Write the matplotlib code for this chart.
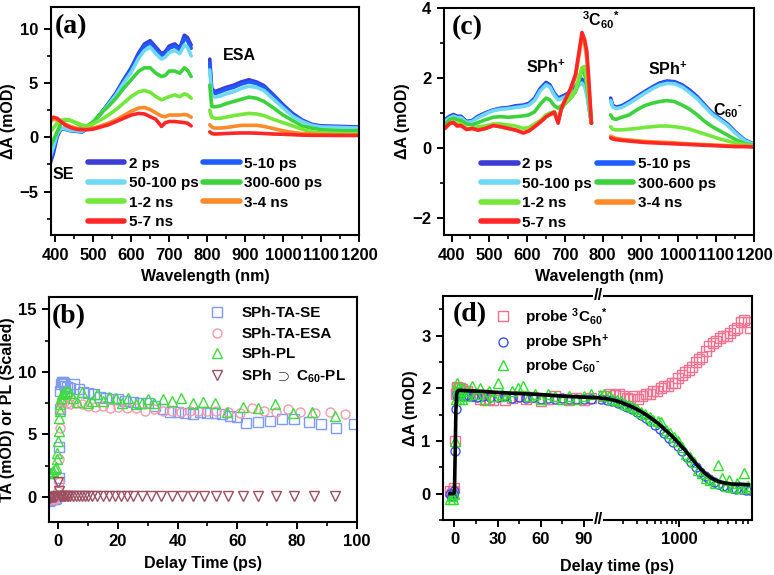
#!/usr/bin/env python3
''' transient absorption spectra and kinetics, four panels '''

import matplotlib
matplotlib.use('Agg')
import matplotlib.pyplot as plt
from matplotlib.ticker import MultipleLocator, LogLocator, NullFormatter
import numpy as np

nan = np.nan

# ---------------- panel (a): SPh spectra ----------------
wl_a = [385, 395, 405, 415, 425, 440, 455, 470, 485, 500, 520, 540, 560, 580, 600,
        620, 635, 650, 665, 680, 690, 700, 715, 728, 740, 748, 758,
        780,
        807, 812, 820, 835, 850, 870, 890, 910, 930, 950, 975, 1000, 1025, 1050,
        1075, 1100, 1150, 1200]
a_2ps = [-2.6, -1.5, 0.05, 0.8, 0.8, 0.65, 0.6, 0.5, 0.8, 1.3, 2.2, 3.1, 4.1, 5.3, 6.4,
         7.8, 8.6, 8.9, 8.3, 7.7, 7.9, 8.4, 8.6, 8.2, 9.4, 9.2, 8.5,
         nan,
         7.2, 4.5, 4.2, 4.4, 4.6, 4.8, 5.1, 5.3, 5.1, 4.75, 3.9, 3.0, 2.2, 1.6,
         1.2, 1.05, 1.0, 0.95]
a_5_10ps = [-2.3, -1.2, 0.2, 0.8, 0.75, 0.6, 0.55, 0.5, 0.8, 1.35, 2.2, 3.1, 4.0, 5.2, 6.3,
            7.6, 8.4, 8.7, 8.1, 7.5, 7.7, 8.2, 8.4, 8.0, 9.1, 8.9, 8.2,
            nan,
            6.8, 4.3, 4.0, 4.2, 4.4, 4.6, 4.9, 5.1, 4.95, 4.6, 3.8, 2.9, 2.1, 1.55,
            1.15, 1.0, 0.95, 0.9]
a_50_100ps = [-2.0, -0.9, 0.3, 0.85, 0.8, 0.65, 0.6, 0.55, 0.85, 1.35, 2.2, 3.0, 3.9, 5.0, 6.0,
              7.3, 8.0, 8.3, 7.7, 7.2, 7.4, 7.8, 8.0, 7.7, 8.5, 8.3, 7.5,
              nan,
              6.2, 3.9, 3.7, 3.8, 4.0, 4.2, 4.5, 4.7, 4.6, 4.3, 3.5, 2.7, 1.95, 1.45,
              1.1, 0.95, 0.9, 0.85]
a_300_600ps = [-1.0, -0.25, 0.5, 1.3, 1.6, 1.55, 1.3, 1.05, 1.05, 1.45, 2.2, 2.85, 3.6, 4.5, 5.3,
               6.1, 6.4, 6.4, 5.9, 5.6, 5.7, 6.1, 6.1, 5.9, 6.4, 6.2, 5.6,
               nan,
               4.8, 2.85, 2.8, 2.9, 3.1, 3.3, 3.5, 3.7, 3.6, 3.3, 2.7, 2.05, 1.55, 1.05,
               0.85, 0.7, 0.6, 0.6]
a_1_2ns = [0.45, 0.85, 1.3, 1.55, 1.65, 1.55, 1.35, 1.15, 1.0, 1.25, 1.6, 2.05, 2.55, 3.15, 3.75,
           4.2, 4.3, 4.15, 3.75, 3.45, 3.6, 3.75, 3.9, 3.75, 4.0, 3.9, 3.6,
           nan,
           2.5, 1.85, 1.75, 1.75, 1.85, 2.0, 2.1, 2.2, 2.15, 2.0, 1.65, 1.35, 1.05, 0.75,
           0.5, 0.4, 0.35, 0.3]
a_3_4ns = [1.45, 1.65, 1.6, 1.45, 1.25, 1.0, 0.85, 0.75, 0.75, 0.85, 1.05, 1.3, 1.6, 2.0, 2.4,
           2.7, 2.75, 2.55, 2.25, 1.95, 1.9, 2.05, 2.05, 2.05, 2.1, 2.05, 1.85,
           nan,
           1.15, 0.95, 0.85, 0.85, 0.9, 1.0, 1.1, 1.1, 1.1, 1.0, 0.8, 0.6, 0.45, 0.35,
           0.3, 0.25, 0.2, 0.2]
a_5_7ns = [1.65, 1.85, 1.75, 1.45, 1.15, 0.9, 0.75, 0.7, 0.7, 0.75, 0.95, 1.15, 1.45, 1.75, 2.05,
           2.2, 2.15, 1.9, 1.65, 1.0, 1.35, 1.45, 1.45, 1.4, 1.35, 1.3, 1.05,
           nan,
           0.5, 0.35, 0.3, 0.32, 0.35, 0.38, 0.4, 0.4, 0.38, 0.35, 0.3, 0.28, 0.24, 0.2,
           0.18, 0.18, 0.17, 0.17]

# ---------------- panel (c): SPh-C60 spectra ----------------
wl_c = [382, 395, 405, 415, 425, 440, 455, 470, 490, 510, 530, 550, 570, 590, 605,
        620, 635, 650, 660, 672, 682, 690, 700, 715, 728, 738, 745, 752, 758, 764, 770,
        795,
        821, 826, 835, 850, 870, 890, 910, 930, 950, 970, 990, 1010, 1030, 1050,
        1070, 1090, 1110, 1130, 1150, 1175, 1200]
c_2ps = [0.8, 0.9, 0.95, 0.9, 0.9, 0.75, 0.78, 0.9, 1.0, 1.08, 1.13, 1.15, 1.2, 1.22, 1.27,
         1.42, 1.7, 1.87, 1.8, 1.56, 1.42, 1.46, 1.51, 1.6, 1.75, 1.9, 1.96, 1.85, 1.65, 1.18, 0.7,
         nan,
         1.42, 1.22, 1.16, 1.2, 1.32, 1.46, 1.6, 1.73, 1.85, 1.91, 1.89, 1.8, 1.65, 1.46,
         1.22, 0.99, 0.84, 0.68, 0.46, 0.22, 0.1]
c_5_10ps = [0.78, 0.88, 0.93, 0.88, 0.88, 0.74, 0.77, 0.88, 0.98, 1.07, 1.12, 1.14, 1.18, 1.2, 1.25,
            1.4, 1.68, 1.84, 1.78, 1.54, 1.4, 1.44, 1.5, 1.58, 1.72, 1.88, 1.92, 1.82, 1.6, 1.15, 0.7,
            nan,
            1.38, 1.2, 1.14, 1.18, 1.3, 1.44, 1.58, 1.71, 1.83, 1.89, 1.87, 1.78, 1.63, 1.44,
            1.2, 0.98, 0.83, 0.67, 0.45, 0.22, 0.1]
c_50_100ps = [0.75, 0.85, 0.9, 0.86, 0.86, 0.72, 0.75, 0.86, 0.97, 1.06, 1.1, 1.12, 1.15, 1.18, 1.22,
              1.36, 1.63, 1.8, 1.74, 1.5, 1.37, 1.4, 1.45, 1.52, 1.65, 1.8, 1.85, 1.75, 1.5, 1.1, 0.7,
              nan,
              1.35, 1.17, 1.12, 1.15, 1.27, 1.41, 1.55, 1.68, 1.79, 1.84, 1.83, 1.74, 1.58, 1.4,
              1.17, 0.95, 0.8, 0.64, 0.43, 0.2, 0.09]
c_300_600ps = [0.65, 0.8, 0.84, 0.8, 0.78, 0.68, 0.65, 0.72, 0.8, 0.87, 0.89, 0.87, 0.89, 0.91, 0.94,
               1.03, 1.25, 1.42, 1.37, 1.2, 1.13, 1.2, 1.25, 1.42, 1.6, 1.94, 2.28, 2.13, 1.75, 1.27, 0.7,
               nan,
               0.94, 0.84, 0.81, 0.87, 0.94, 1.08, 1.2, 1.27, 1.32, 1.35, 1.32, 1.22, 1.1, 0.94,
               0.75, 0.6, 0.48, 0.36, 0.24, 0.12, 0.06]
c_1_2ns = [0.55, 0.7, 0.75, 0.68, 0.68, 0.55, 0.55, 0.6, 0.62, 0.68, 0.68, 0.65, 0.62, 0.55, 0.58,
           0.68, 0.78, 0.94, 0.99, 1.03, 0.8, 1.08, 1.27, 1.42, 1.65, 2.04, 2.28, 2.33, 1.94, 1.37, 0.7,
           nan,
           0.6, 0.53, 0.51, 0.51, 0.53, 0.55, 0.58, 0.6, 0.62, 0.62, 0.6, 0.57, 0.53, 0.46,
           0.39, 0.32, 0.25, 0.19, 0.14, 0.09, 0.05]
c_3_4ns = [0.55, 0.68, 0.72, 0.65, 0.65, 0.53, 0.55, 0.51, 0.55, 0.65, 0.6, 0.55, 0.51, 0.43, 0.49,
           0.62, 0.75, 0.89, 0.94, 1.0, 0.75, 1.13, 1.37, 1.65, 2.04, 2.71, 3.14, 3.0, 2.52, 1.65, 0.7,
           nan,
           0.33, 0.3, 0.27, 0.24, 0.22, 0.2, 0.18, 0.17, 0.16, 0.15, 0.14, 0.12, 0.11, 0.1,
           0.09, 0.08, 0.07, 0.06, 0.05, 0.04, 0.03]
c_5_7ns = [0.55, 0.7, 0.72, 0.62, 0.63, 0.52, 0.55, 0.5, 0.55, 0.63, 0.6, 0.55, 0.5, 0.42, 0.48,
           0.6, 0.73, 0.88, 0.95, 1.02, 0.7, 1.1, 1.35, 1.7, 2.1, 2.8, 3.3, 3.1, 2.75, 1.8, 0.7,
           nan,
           0.28, 0.25, 0.23, 0.21, 0.19, 0.17, 0.15, 0.14, 0.13, 0.12, 0.11, 0.1, 0.09, 0.08,
           0.07, 0.06, 0.05, 0.04, 0.03, 0.03, 0.02]

spec_labels = ['2 ps', '5-10 ps', '50-100 ps', '300-600 ps', '1-2 ns', '3-4 ns', '5-7 ns']
spec_colors = ['#3b3bd6', '#1d5cff', '#6fd8f4', '#3cd23c', '#74e83a', '#ff8a2a', '#ff2626']

# ---------------- panel (b): kinetics SPh ----------------
t_se = [-3, -2.5, -2, -1.5, -1, -0.5, 0, 0.2, 0.4, 0.6, 0.8, 1.0, 1.3, 1.6, 2.0, 2.5, 3, 4,
        5.5, 7, 8.5, 10, 12, 14, 16, 18, 20, 22.5, 25, 27.5, 30, 32.5, 35, 37.5, 40, 42.5,
        45, 47.5, 50, 52.5, 55, 57.5, 60, 63, 67, 71, 75, 79, 84, 88, 93, 99]
se = [-0.3, -0.25, -0.2, -0.2, -0.15, -0.1, 0.1, 1.5, 4.0, 7.0, 8.5, 9.0, 9.2, 9.2, 9.1, 8.9,
      8.8, 8.7, 9.0, 8.6, 8.4, 8.3, 8.2, 8.0, 7.9, 7.8, 7.8, 7.7, 7.6, 7.5, 7.5, 7.3, 7.0,
      6.8, 6.8, 6.7, 6.6, 6.8, 6.7, 6.7, 6.6, 6.5, 6.4, 5.9, 6.0, 6.1, 6.2, 6.2, 6.0, 5.8,
      5.5, 5.8]
t_esa = [-3, -2, -1, -0.5, 0, 0.2, 0.4, 0.6, 0.8, 1.0, 1.5, 2, 3, 4, 6, 8, 10, 12.5, 15,
         17.5, 20, 23, 26, 29, 32, 35, 38, 41, 44, 47, 50, 53, 57, 61, 65, 69, 73, 77, 81,
         86, 91, 96]
esa = [-0.2, -0.2, -0.15, 0.0, 0.5, 1.2, 3.0, 5.5, 7.0, 7.5, 7.6, 7.6, 7.5, 7.4, 7.5, 7.4,
       7.3, 7.2, 7.3, 7.1, 7.2, 7.1, 7.1, 6.9, 7.0, 6.9, 6.9, 6.8, 6.9, 6.9, 6.9, 6.9, 6.8,
       6.7, 7.1, 6.9, 6.8, 7.0, 6.8, 6.7, 6.8, 6.6]
t_pl = [-3, -2.5, -2, -1.5, -1, -0.7, -0.4, -0.2, 0, 0.2, 0.4, 0.6, 0.8, 1.0, 1.3, 1.7,
        2.2, 3, 4, 5, 6.5, 8, 10, 11.5, 13, 15, 17, 19.5, 21.5, 23.5, 26, 28, 30, 32, 35,
        38, 41, 45, 48.5, 52.5, 56.5, 62, 67, 72.5, 78.5, 85, 92.5]
pl = [1.9, 1.9, 2.0, 2.1, 2.2, 2.4, 3.0, 3.5, 4.5, 5.3, 6.3, 6.9, 7.4, 7.9, 8.2, 8.3, 8.4,
      8.5, 8.3, 7.9, 7.6, 8.4, 7.5, 7.7, 8.2, 7.7, 8.0, 7.9, 7.5, 7.9, 7.4, 7.5, 7.8, 7.5,
      7.8, 7.7, 7.9, 7.5, 7.6, 7.5, 6.8, 7.2, 7.1, 7.4, 6.7, 6.8, 6.5]
t_plc = [-3, -2.5, -2, -1.5, -1, -0.5, 0, 0.3, 0.6, 1, 1.5, 2, 2.5, 3, 3.5, 4, 5, 6, 7, 8,
         9, 10, 11.5, 13, 15, 17, 19, 21, 23, 25, 28, 31, 34.5, 38, 41.5, 45, 49, 53, 57,
         62, 67, 73, 79, 85.5, 92.5]
plc = [0.0, -0.05, 0.0, 0.0, 0.0, 0.05, 1.2, 0.5, 0.1, 0.05, 0.05, 0.05, 0.05, 0.05, 0.05,
       0.05, 0.05, 0.05, 0.05, 0.05, 0.05, 0.05, 0.05, 0.05, 0.05, 0.05, 0.05, 0.05, 0.05,
       0.05, 0.05, 0.05, 0.05, 0.08, 0.08, 0.08, 0.05, 0.05, 0.05, 0.08, 0.08, 0.08, 0.08,
       0.08, 0.08]

# ---------------- panel (d): kinetics SPh-C60 ----------------
t_trip_lin = [-3, -2, -1, 0, 0.5, 1, 1.5, 2, 3, 4, 5, 7, 9, 12, 15, 18, 21, 24, 27, 30, 35,
              40, 45, 50, 55, 60, 65, 70, 75, 80, 85, 90, 95]
trip_lin = [0.05, 0.0, 0.05, 0.1, 1.0, 1.9, 2.0, 2.02, 2.0, 2.0, 1.98, 1.95, 1.95, 1.9,
            1.85, 1.8, 1.78, 1.8, 1.77, 1.85, 1.78, 1.82, 1.85, 1.8, 1.83, 1.76, 1.8, 1.85,
            1.8, 1.78, 1.82, 1.78, 1.82]
t_trip_log = [110, 125, 140, 160, 180, 200, 225, 250, 280, 310, 350, 390, 430, 480, 530,
              590, 650, 720, 800, 880, 970, 1070, 1180, 1300, 1430, 1580, 1740, 1920, 2120,
              2340, 2580, 2850, 3150, 3480, 3840, 4240, 4680, 5170, 5700, 6300, 6950, 7400]
trip_log = [1.85, 1.85, 1.9, 1.88, 1.9, 1.85, 1.82, 1.8, 1.85, 1.8, 1.85, 1.9, 1.9, 1.95,
            1.95, 2.0, 2.05, 2.05, 2.1, 2.1, 2.2, 2.25, 2.3, 2.35, 2.4, 2.5, 2.55, 2.6, 2.7,
            2.8, 2.85, 2.9, 2.95, 3.0, 3.0, 3.05, 3.1, 3.15, 3.25, 3.3, 3.25, 3.15]

t_cat_lin = [-3, -2, -1, 0, 0.5, 1, 1.5, 2, 3, 4, 6, 8, 10, 13, 16, 20, 25, 30, 35, 40, 45,
             50, 55, 60, 65, 70, 75, 80, 85, 90, 95]
cat_lin = [0.0, -0.05, 0.0, 0.05, 0.8, 1.6, 1.85, 1.9, 1.88, 1.9, 1.85, 1.88, 1.85, 1.85,
           1.83, 1.85, 1.84, 1.83, 1.85, 1.82, 1.84, 1.82, 1.83, 1.8, 1.82, 1.8, 1.82, 1.8,
           1.8, 1.8, 1.8]
t_cat_log = [110, 130, 150, 175, 200, 230, 260, 300, 340, 390, 440, 500, 570, 650, 740,
             840, 950, 1080, 1230, 1400, 1590, 1800, 2050, 2330, 2650, 3000, 3400, 3900,
             4400, 5000, 5700, 6500, 7300]
cat_log = [1.8, 1.78, 1.75, 1.72, 1.68, 1.64, 1.6, 1.55, 1.5, 1.44, 1.38, 1.3, 1.23, 1.15,
           1.05, 0.98, 0.9, 0.8, 0.7, 0.6, 0.5, 0.42, 0.34, 0.27, 0.22, 0.18, 0.14, 0.12,
           0.1, 0.09, 0.08, 0.07, 0.06]

t_an_lin = [-3, -2, -1, 0, 0.5, 1, 1.5, 2, 2.5, 3, 4, 5, 6, 8, 10, 12, 15, 18, 21, 24, 27,
            30, 33, 36, 40, 44, 48, 52, 56, 60, 65, 70, 75, 80, 85, 90, 95]
an_lin = [-0.1, -0.05, -0.1, 0.0, 1.0, 1.8, 1.95, 2.1, 2.0, 1.8, 1.95, 1.8, 2.0, 1.85, 1.95,
          2.05, 1.9, 2.0, 1.8, 1.95, 1.85, 2.1, 1.9, 1.85, 1.95, 2.0, 2.05, 1.85, 1.9, 1.8,
          1.9, 1.85, 1.8, 1.85, 1.8, 1.85, 1.9]
t_an_log = [105, 120, 135, 150, 170, 190, 215, 240, 270, 300, 340, 380, 430, 480, 540, 600,
            680, 760, 850, 950, 1070, 1200, 1350, 1500, 1700, 1900, 2100, 2400, 2700, 3000,
            3300, 3700, 4100, 4600, 5100, 5700, 6300, 6900, 7300]
an_log = [1.88, 1.9, 1.85, 1.8, 1.78, 1.75, 1.7, 1.68, 1.65, 1.6, 1.55, 1.52, 1.45, 1.4,
          1.38, 1.35, 1.2, 1.15, 1.08, 1.0, 0.88, 0.75, 0.7, 0.6, 0.45, 0.4, 0.3, 0.25, 0.2,
          0.55, 0.3, 0.15, 0.25, 0.12, 0.2, 0.1, 0.4, 0.15, 0.1]

t_fit_lin = [-3, -0.5, 0, 0.5, 1, 1.5, 2, 3, 5, 10, 20, 30, 45, 60, 75, 90, 100]
fit_lin = [0.0, 0.0, 0.05, 0.8, 1.6, 1.88, 1.94, 1.96, 1.96, 1.95, 1.94, 1.92, 1.9, 1.88,
           1.85, 1.83, 1.82]
t_fit_log = [100, 130, 160, 200, 250, 300, 370, 450, 550, 670, 800, 950, 1150, 1400, 1700,
             2050, 2500, 3000, 3700, 4500, 5500, 7000]
fit_log = [1.82, 1.8, 1.77, 1.72, 1.66, 1.6, 1.52, 1.43, 1.33, 1.21, 1.1, 0.98, 0.84, 0.68,
           0.52, 0.39, 0.29, 0.23, 0.2, 0.18, 0.18, 0.17]


plt.rcParams['font.family'] = ['Liberation Sans', 'DejaVu Sans']
plt.rcParams['font.weight'] = 'bold'
plt.rcParams['axes.labelweight'] = 'bold'
plt.rcParams['mathtext.fontset'] = 'custom'
plt.rcParams['mathtext.rm'] = 'Liberation Sans:bold'
plt.rcParams['mathtext.it'] = 'Liberation Sans:bold'
plt.rcParams['mathtext.bf'] = 'Liberation Sans:bold'
plt.rcParams['mathtext.sf'] = 'Liberation Sans:bold'
plt.rcParams['axes.linewidth'] = 1.5

TICK = 12
LAB = 11.5
LEG = 11
ANION = r'C$_{60}$$^{\text{-}}$'


def style(ax):
    ''' ticks out, bold labels, box only on the plotting side '''
    ax.tick_params(which='major', direction='out', length=5, width=1.4, labelsize=TICK,
                   top=False, right=False, pad=4)
    ax.tick_params(which='minor', direction='out', length=3, width=1.2,
                   top=False, right=False)


def panel_tag(ax, x, y, s):
    ax.text(x, y, s, transform=ax.transAxes, ha='left', va='center',
            family='Liberation Serif', fontweight='bold', fontsize=20)


fig = plt.figure(figsize=(7.74, 5.75), dpi=100)

ax_a = fig.add_axes([0.0655, 0.5913, 0.3983, 0.3965])
ax_c = fig.add_axes([0.5736, 0.5913, 0.4005, 0.3948])
ax_b = fig.add_axes([0.0633, 0.0922, 0.3979, 0.3913])
ax_dl = fig.add_axes([443 / 774, 55 / 575, 155 / 774, 224 / 575])
ax_dr = fig.add_axes([598 / 774, 55 / 575, 154 / 774, 224 / 575], sharey=ax_dl)

# ---- spectra (a) and (c)
series_a = [a_2ps, a_5_10ps, a_50_100ps, a_300_600ps, a_1_2ns, a_3_4ns, a_5_7ns]
series_c = [c_2ps, c_5_10ps, c_50_100ps, c_300_600ps, c_1_2ns, c_3_4ns, c_5_7ns]
order = [0, 2, 4, 6, 1, 3, 5]   # column-wise legend fill

for ax, wl, series in [(ax_a, wl_a, series_a), (ax_c, wl_c, series_c)]:
    lines = []
    for vals, lab, col in zip(series, spec_labels, spec_colors):
        ln, = ax.plot(wl, vals, color=col, lw=2.6, label=lab, solid_capstyle='round')
        lines.append(ln)
    leg = ax.legend([lines[i] for i in order], [spec_labels[i] for i in order],
                    ncol=2, frameon=False, fontsize=LEG, loc='upper left',
                    bbox_to_anchor=(0.1, 0.37), handlelength=2.4, handletextpad=0.3,
                    columnspacing=0.3, labelspacing=0.36, borderaxespad=0)
    for h in leg.legend_handles:
        h.set_linewidth(4)
    ax.xaxis.set_major_locator(MultipleLocator(100))
    ax.xaxis.set_minor_locator(MultipleLocator(50))
    ax.set_xlabel('Wavelength (nm)', fontsize=LAB, labelpad=5)
    ax.set_ylabel('ΔA (mOD)', fontsize=LAB, labelpad=2)
    style(ax)

ax_a.set_xlim(388, 1200)
ax_a.set_ylim(-9, 12)
ax_a.yaxis.set_major_locator(MultipleLocator(5))
ax_a.yaxis.set_minor_locator(MultipleLocator(2.5))
ax_a.text(885, 7.5, 'ESA', ha='center', va='center', fontsize=LAB)
ax_a.text(420, -3.4, 'SE', ha='center', va='center', fontsize=LAB)
panel_tag(ax_a, 0.012, 0.915, '(a)')

ax_c.set_xlim(380, 1200)
ax_c.set_ylim(-2.5, 4)
ax_c.yaxis.set_major_locator(MultipleLocator(2))
ax_c.yaxis.set_minor_locator(MultipleLocator(1))
ax_c.text(648, 2.3, 'SPh$^{+}$', ha='center', va='center', fontsize=LAB)
ax_c.text(795, 3.65, '$^{3}$C$_{60}$$^{*}$', ha='center', va='center', fontsize=LAB)
ax_c.text(972, 2.25, 'SPh$^{+}$', ha='center', va='center', fontsize=LAB)
ax_c.text(1132, 1.05, ANION, ha='center', va='center', fontsize=LAB)
panel_tag(ax_c, 0.024, 0.915, '(c)')

# ---- kinetics (b)
mk = dict(ls='none', mfc='none', mew=1.0, ms=6.5)
ax_b.plot(t_se, se, marker='s', color='#7f9cf2', label='SPh-TA-SE', **mk)
ax_b.plot(t_esa, esa, marker='o', color='#f59aae', label='SPh-TA-ESA', **mk)
ax_b.plot(t_pl, pl, marker='^', color='#3fdc3f', label='SPh-PL', **mk)
ax_b.plot(t_plc, plc, marker='v', color='#9c4f60', label=r'SPh $\supset$ C$_{60}$-PL', **mk)
ax_b.legend(frameon=False, fontsize=LEG, loc='upper left', bbox_to_anchor=(0.475, 0.985),
            handletextpad=0.6, labelspacing=0.42, borderaxespad=0)
ax_b.set_xlim(-3, 100)
ax_b.set_ylim(-2, 16)
ax_b.xaxis.set_major_locator(MultipleLocator(20))
ax_b.xaxis.set_minor_locator(MultipleLocator(10))
ax_b.yaxis.set_major_locator(MultipleLocator(5))
ax_b.yaxis.set_minor_locator(MultipleLocator(2.5))
ax_b.set_xlabel('Delay Time (ps)', fontsize=LAB, labelpad=5)
ax_b.set_ylabel('TA (mOD) or PL (Scaled)', fontsize=LAB, labelpad=2)
style(ax_b)
panel_tag(ax_b, 0.01, 0.915, '(b)')

# ---- kinetics (d), broken axis: linear then log
for ax, tt, tc, ta, tf, vt, vc, va, vf in [
        (ax_dl, t_trip_lin, t_cat_lin, t_an_lin, t_fit_lin, trip_lin, cat_lin, an_lin, fit_lin),
        (ax_dr, t_trip_log, t_cat_log, t_an_log, t_fit_log, trip_log, cat_log, an_log, fit_log)]:
    ax.plot(tt, vt, marker='s', color='#f4708e', label='probe $^{3}$C$_{60}$$^{*}$', **mk)
    ax.plot(tc, vc, marker='o', color='#3a52e6', label='probe SPh$^{+}$', **mk)
    ax.plot(ta, va, marker='^', color='#2ee02e', label='probe ' + ANION, **mk)
    ax.plot(tf, vf, color='black', lw=2.6, zorder=5)
    style(ax)

ax_dl.set_xlim(-8, 100)
ax_dl.set_ylim(-0.5, 3.75)
ax_dl.xaxis.set_major_locator(MultipleLocator(30))
ax_dl.xaxis.set_minor_locator(MultipleLocator(15))
ax_dl.yaxis.set_major_locator(MultipleLocator(1))
ax_dl.yaxis.set_minor_locator(MultipleLocator(0.5))
ax_dl.spines['right'].set_visible(False)
ax_dl.set_ylabel('ΔA (mOD)', fontsize=LAB, labelpad=2)

ax_dr.set_xscale('log')
ax_dr.set_xlim(100, 7800)
ax_dr.xaxis.set_major_locator(LogLocator(base=10))
ax_dr.xaxis.set_minor_locator(LogLocator(base=10, subs=np.arange(2, 10)))
ax_dr.xaxis.set_minor_formatter(NullFormatter())
ax_dr.set_xticks([1000])
ax_dr.set_xticklabels(['1000'])
ax_dr.spines['left'].set_visible(False)
ax_dr.tick_params(axis='y', which='both', left=False, labelleft=False)
ax_dr.patch.set_visible(False)

h, l = ax_dl.get_legend_handles_labels()
fig.legend(h, l, frameon=False, fontsize=LEG, loc='upper left',
           bbox_to_anchor=(482 / 774, 1 - 300 / 575), handletextpad=0.4,
           labelspacing=0.3, borderaxespad=0)
panel_tag(ax_dl, 0.065, 0.915, '(d)')

for yb in (55 / 575, 279 / 575):
    fig.text(598 / 774, yb, '//', ha='center', va='center', fontsize=12,
             fontweight='bold', bbox=dict(fc='white', ec='none', pad=0.5))
fig.text(617 / 774, 1 - 566 / 575, 'Delay time (ps)', ha='center', va='center', fontsize=LAB)

fig.savefig('out.png', dpi=100)
